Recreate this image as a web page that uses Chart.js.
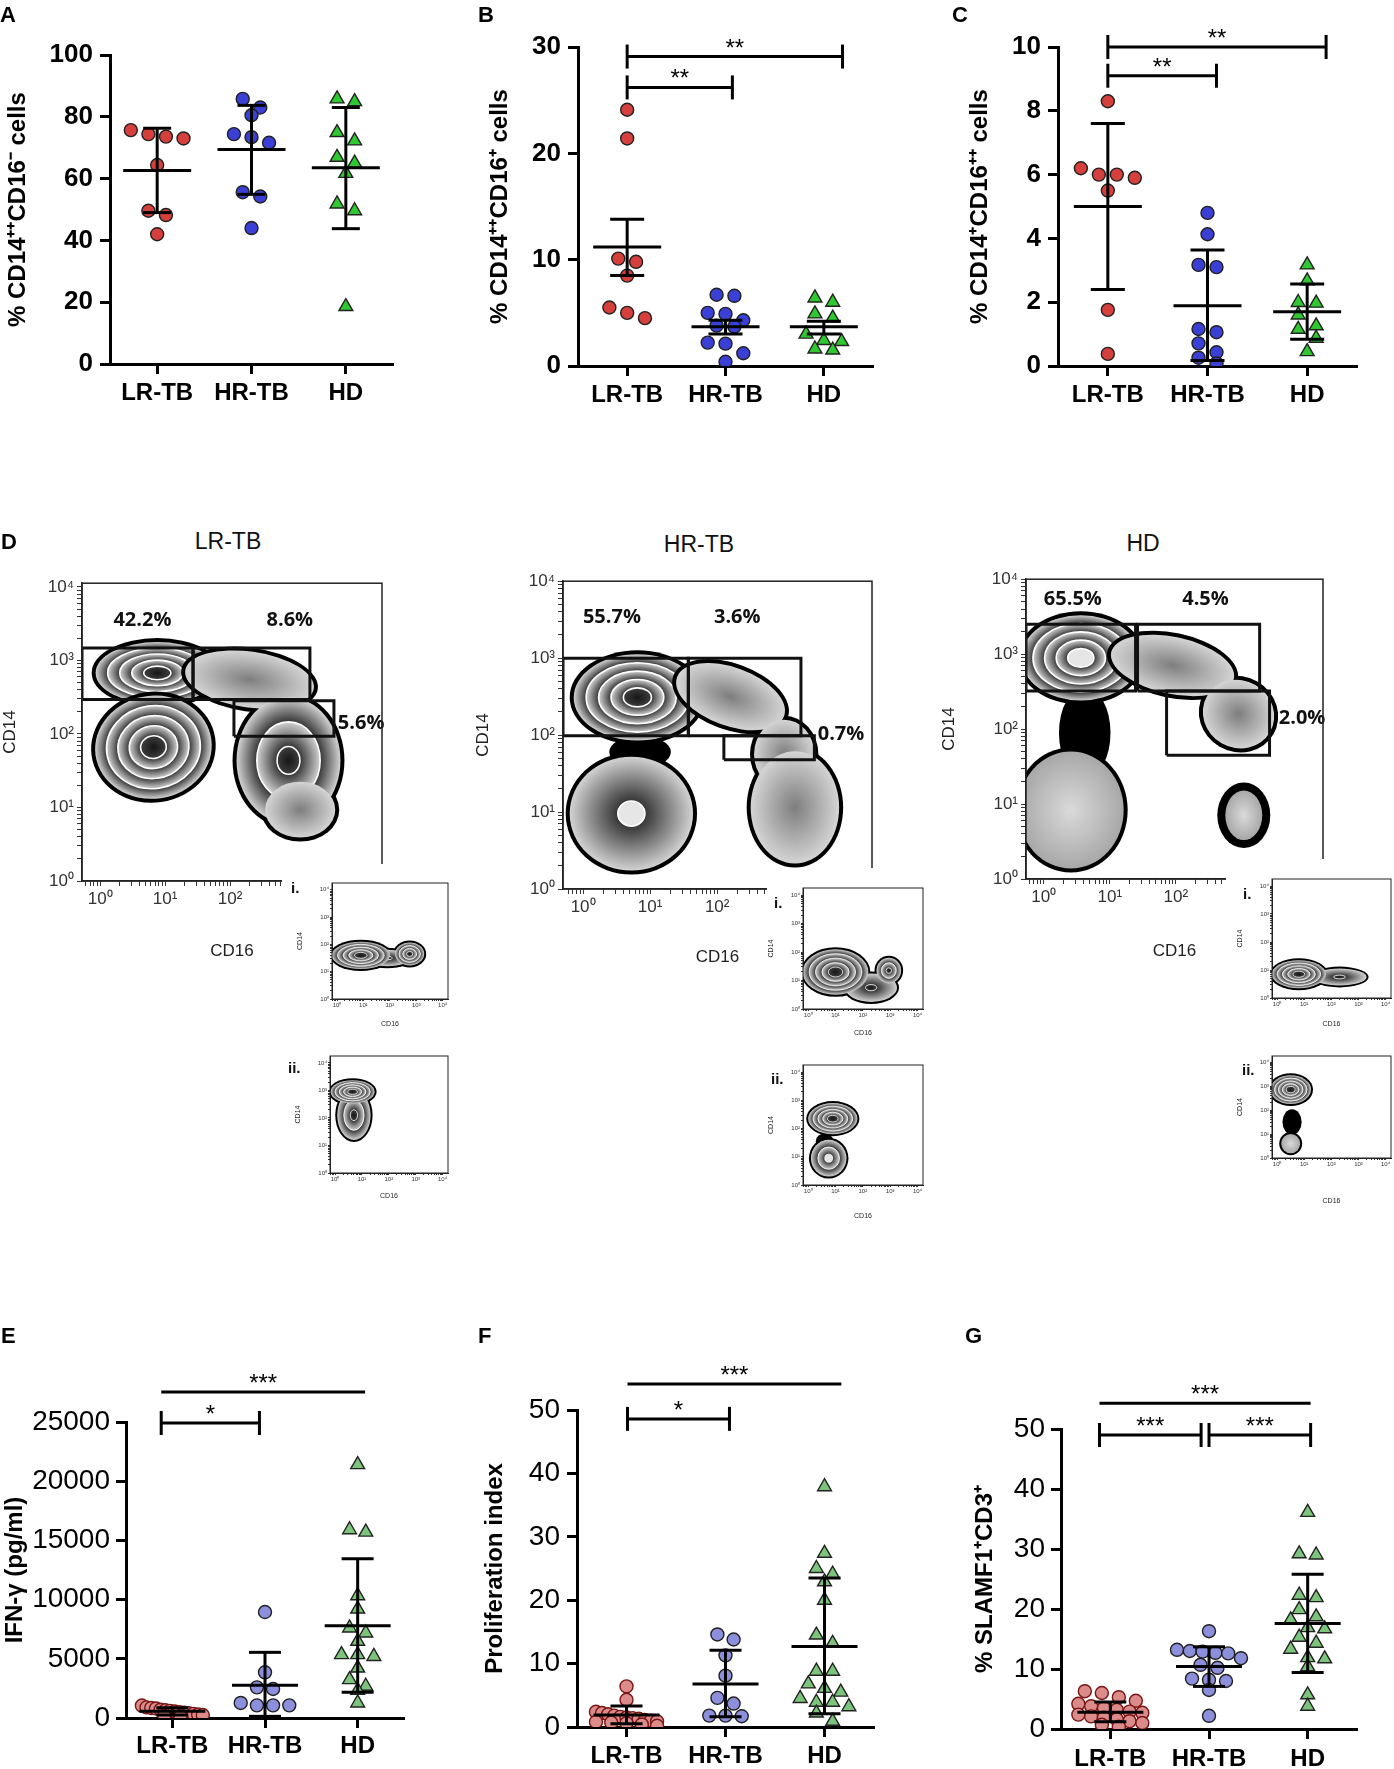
<!DOCTYPE html>
<html>
<head>
<meta charset="utf-8">
<title>Monocyte subsets and T-cell responses</title>
<script src="https://cdn.jsdelivr.net/npm/chart.js@4.4.1/dist/chart.umd.min.js"></script>
<style>
  body { margin: 0; background: #fff; }
  #page { position: relative; width: 1394px; height: 1769px; overflow: hidden; background: #fff; font-family: 'Liberation Sans', Arial, sans-serif; }
  #page canvas { position: absolute; }
  .tag { position: absolute; font-weight: bold; font-size: 22px; line-height: 1; color: #000; z-index: 5; }
  .sub { position: absolute; font-size: 23px; line-height: 1; color: #111; transform: translateX(-50%); z-index: 5; }
  .roman { position: absolute; font-weight: bold; font-size: 15px; line-height: 1; color: #111; z-index: 5; }
</style>
</head>
<body>
<div id="page">
  <div class="tag" style="left:0px;top:4px">A</div>
  <div class="tag" style="left:478px;top:4px">B</div>
  <div class="tag" style="left:952px;top:4px">C</div>
  <div class="tag" style="left:1px;top:531px">D</div>
  <div class="tag" style="left:1px;top:1325px">E</div>
  <div class="tag" style="left:478px;top:1325px">F</div>
  <div class="tag" style="left:965px;top:1325px">G</div>
  <div class="sub" style="left:228px;top:530px">LR-TB</div>
  <div class="sub" style="left:699px;top:533px">HR-TB</div>
  <div class="sub" style="left:1143px;top:532px">HD</div>
  <div class="roman" style="left:291px;top:880px">i.</div>
  <div class="roman" style="left:288px;top:1060px">ii.</div>
  <div class="roman" style="left:774px;top:895px">i.</div>
  <div class="roman" style="left:771px;top:1071px">ii.</div>
  <div class="roman" style="left:1243px;top:886px">i.</div>
  <div class="roman" style="left:1242px;top:1062px">ii.</div>
</div>
<script>
const FF = "'Liberation Sans', Arial, sans-serif";
const groups = ['LR-TB', 'HR-TB', 'HD'];
const sup = ['\u2070', '\u00b9', '\u00b2', '\u00b3', '\u2074'];

// A  % CD14++CD16- cells, mean +/- SD
const aLR = [75.7, 73.0, 73.6, 74.4, 64.4, 48.2, 49.6, 42.0];
const aHR = [85.8, 83.0, 80.5, 74.4, 73.4, 71.6, 55.6, 54.2, 44.0];
const aHD = [85.8, 84.9, 74.9, 72.2, 66.9, 65.0, 61.7, 51.8, 49.6, 18.6];
const aMean = [62.6, 69.4, 63.5];
const aLow = [49.0, 54.9, 43.8];
const aHigh = [76.3, 83.7, 83.0];
const aTicks = [0, 20, 40, 60, 80, 100];

// B  % CD14++CD16+ cells, mean +/- SEM
const bLR = [24.1, 21.4, 10.1, 9.8, 8.5, 5.5, 5.0, 4.5];
const bHR = [6.7, 6.6, 5.0, 4.9, 4.3, 3.8, 3.7, 2.2, 2.1, 1.2, 0.4];
const bHD = [6.4, 6.0, 4.9, 4.5, 3.0, 2.4, 2.3, 1.6, 1.5];
const bMean = [11.2, 3.7, 3.7];
const bLow = [8.5, 3.0, 3.0];
const bHigh = [13.8, 4.3, 4.2];
const bTicks = [0, 10, 20, 30];
const bSig = ['**', '**'];

// C  % CD14+CD16++ cells
const cLR = [8.3, 6.2, 6.0, 6.0, 5.9, 5.5, 1.76, 0.38];
const cHR = [4.8, 4.13, 3.17, 3.1, 1.16, 1.06, 0.71, 0.43, 0.26, 0.08];
const cHD = [3.17, 2.67, 1.99, 1.97, 1.6, 1.26, 1.15, 0.87, 0.45];
const cMean = [5.0, 1.89, 1.7];
const cLow = [2.4, 0.17, 0.84];
const cHigh = [7.6, 3.64, 2.57];
const cTicks = [0, 2, 4, 6, 8, 10];
const cSig = ['**', '**'];

// E  IFN-gamma (pg/ml)
const eLR = [1050, 900, 850, 800, 700, 650, 600, 550, 500, 450, 400, 350, 300, 250, 200, 150];
const eHR = [8950, 3860, 2590, 2450, 1270, 1070, 1070, 1070];
const eHD = [21400, 15900, 15700, 10330, 9200, 7600, 7180, 6480, 5350, 5350, 5200, 4220, 3240, 2680, 2340, 1270];
const eMean = [560, 2760, 7800];
const eLow = [250, 140, 2170];
const eHigh = [870, 5546, 13457];
const eTicks = [0, 5000, 10000, 15000, 20000, 25000];
const eSig = ['***', '*'];

// F  proliferation index
const fLR = [6.4, 4.3, 2.4, 2.2, 2.0, 1.8, 1.6, 1.5, 1.4, 1.3, 1.1, 1.0, 0.9, 0.8, 0.7, 0.6, 0.4, 0.2];
const fHR = [14.6, 13.8, 11.3, 8.1, 4.6, 3.7, 1.8, 1.8, 1.7];
const fHD = [37.9, 27.4, 25.0, 24.1, 22.9, 20.0, 14.5, 13.2, 8.8, 8.8, 6.8, 6.1, 5.5, 4.5, 3.9, 3.9, 3.2, 2.2, 0.9];
const fMean = [1.9, 6.8, 12.7];
const fLow = [0.5, 1.6, 2.1];
const fHigh = [3.3, 12.1, 23.5];
const fTicks = [0, 10, 20, 30, 40, 50];
const fSig = ['***', '*'];

// G  % SLAMF1+CD3+
const gLR = [6.3, 6.0, 5.3, 4.7, 4.2, 3.8, 3.5, 3.2, 2.9, 2.7, 2.4, 2.1, 1.9, 1.6, 1.3, 1.0, 0.7, 0.4];
const gHR = [16.3, 13.2, 13.0, 12.9, 12.7, 12.6, 11.8, 10.7, 10.2, 8.4, 8.2, 8.0, 6.5, 2.2];
const gHD = [36.1, 29.2, 29.0, 22.3, 21.9, 19.9, 18.7, 18.2, 16.9, 16.7, 15.3, 14.3, 13.3, 11.9, 11.7, 10.4, 5.7, 3.8];
const gMean = [2.8, 10.4, 17.6];
const gLow = [1.2, 7.1, 9.4];
const gHigh = [4.5, 13.7, 25.8];
const gTicks = [0, 10, 20, 30, 40, 50];
const gSig = ['***', '***', '***'];

// D  flow plots, log10 units. gates [x0, x1, y0, y1]
const lrGates = [[-0.28, 1.43, 2.47, 3.17], [1.43, 3.23, 2.47, 3.17], [2.06, 3.6, 1.97, 2.45]];
const hrGates = [[-0.3, 1.57, 1.99, 3.0], [1.57, 3.25, 1.99, 3.0], [2.1, 3.45, 1.68, 1.99]];
const hdGates = [[-0.27, 1.39, 2.51, 3.4], [1.42, 3.27, 2.51, 3.4], [1.86, 3.42, 1.65, 2.51]];
const lrPct = ['42.2%', '8.6%', '5.6%'];
const hrPct = ['55.7%', '3.6%', '0.7%'];
const hdPct = ['65.5%', '4.5%', '2.0%'];
// populations: [cx, cy, rx, ry, tilt, kind, contours, edge]
const lrPops = [
  [[0.88, 2.83, 0.95, 0.42, 0, 'z', 4]],
  [[0.82, 1.82, 0.9, 0.7, -8, 'z', 4]],
  [[2.3, 2.74, 1.0, 0.38, 8, 's', 0], [2.9, 1.64, 0.8, 0.86, 0, 'z', 2], [3.08, 0.97, 0.54, 0.38, 0, 's', 0]]
];
const hrPops = [
  [[0.85, 1.78, 0.4, 0.16, 0, 'k', 0]],
  [[0.81, 2.49, 0.95, 0.56, 0, 'z', 4]],
  [[0.72, 0.98, 0.92, 0.74, 0, 'zl', 1]],
  [[2.2, 2.5, 0.85, 0.38, 20, 's', 0], [3.0, 1.75, 0.45, 0.45, 0, 's', 0], [3.16, 1.06, 0.66, 0.73, 0, 's', 0]]
];
const hdPops = [
  [[0.62, 1.95, 0.33, 0.55, 0, 'k', 0]],
  [[0.56, 2.95, 0.9, 0.57, 0, 'zl', 4]],
  [[0.41, 0.92, 0.8, 0.78, 0, 'sl', 0]],
  [[1.95, 2.85, 0.95, 0.38, 12, 's', 0], [2.95, 2.2, 0.55, 0.45, 30, 's', 0]],
  [[3.03, 0.85, 0.28, 0.33, 0, 'sl', 0, 8]]
];
// back-gated insets (i. and ii.)
const lrInsetI = [[[1.9, 1.5, 0.9, 0.3, 0, 'z', 1], [0.9, 1.6, 1.1, 0.5, 0, 'z', 4], [2.75, 1.65, 0.55, 0.42, 0, 'z', 3]]];
const lrInsetII = [[[0.7, 2.1, 0.62, 0.9, 0, 'z', 2], [0.65, 2.95, 0.82, 0.42, 0, 'z', 4]]];
const hrInsetI = [[[2.3, 0.75, 0.95, 0.5, 0, 'z', 1], [1.0, 1.3, 1.2, 0.8, 0, 'z', 4], [2.95, 1.35, 0.45, 0.45, 0, 'z', 2]]];
const hrInsetII = [[[0.6, 1.55, 0.25, 0.2, 0, 'k', 0]], [[0.75, 0.95, 0.65, 0.65, 0, 'zl', 2]], [[0.9, 2.35, 0.9, 0.55, 0, 'z', 4]]];
const hdInsetI = [[[2.3, 0.75, 1.0, 0.3, 0, 'z', 1], [0.8, 0.85, 1.0, 0.5, 0, 'z', 4]]];
const hdInsetII = [[[0.55, 1.5, 0.28, 0.45, 0, 'k', 0]], [[0.5, 0.6, 0.35, 0.4, 0, 'sl', 0]], [[0.5, 2.85, 0.75, 0.6, 0, 'z', 4]]];

Chart.defaults.font.family = FF;
Chart.defaults.color = '#000';
Chart.defaults.animation = false;
Chart.defaults.events = [];
Chart.defaults.plugins.legend.display = false;
Chart.defaults.plugins.tooltip.enabled = false;

function place(box, white) {
  const c = document.createElement('canvas');
  c.width = box[2]; c.height = box[3];
  c.style.left = box[0] + 'px'; c.style.top = box[1] + 'px';
  if (white) { c.style.background = '#fff'; c.style.zIndex = 2; }
  document.getElementById('page').appendChild(c);
  return c;
}

// prism-like scatter: points of similar value sit side by side
function swarm(vals, cat, perX, perY, o) {
  const idx = vals.map((v, i) => i).sort((a, b) => vals[b] - vals[a]);
  const rows = [];
  idx.forEach(i => {
    const row = rows[rows.length - 1];
    if (row && (vals[row[0]] - vals[i]) * perY < o.tol) row.push(i); else rows.push([i]);
  });
  const out = [];
  rows.forEach(row => {
    const n = row.length;
    const gap = n > 1 ? Math.min(o.step, 2 * o.half / (n - 1)) : 0;
    row.forEach((i, k) => out.push({ x: cat + (k - (n - 1) / 2) * gap / perX, y: vals[i] }));
  });
  return out;
}

function dotPanel(p) {
  const cv = place(p.box);
  const top = p.ticks[p.ticks.length - 1];
  const perX = (p.box[2] - p.yw - p.pr) / 3;
  const perY = (p.box[3] - p.pt - p.xh) / top;
  const ds = [];
  p.series.forEach((vals, i) => {
    const tri = i === 2;
    ds.push({
      data: swarm(vals, i + 1, perX, perY, p.swarm),
      pointStyle: tri ? 'triangle' : 'circle', pointRadius: tri ? p.tri : p.dot,
      pointBackgroundColor: p.fill[i], pointBorderColor: p.edge[i], pointBorderWidth: 1.4, order: 2
    });
  });
  p.mean.forEach((m, i) => {
    ds.push({ data: [{ x: i + 1, y: m }], pointStyle: 'line', pointRadius: p.meanHalf,
      pointBorderWidth: 3, pointBorderColor: '#000', order: 1 });
    ds.push({ data: [{ x: i + 1, y: p.low[i] }, { x: i + 1, y: p.high[i] }], showLine: true,
      borderColor: '#000', borderWidth: 3, pointStyle: 'line', pointRadius: p.capHalf,
      pointBorderWidth: 3, pointBorderColor: '#000', order: 1 });
  });
  p.brackets.forEach(b => {
    ds.push({ data: [{ x: b[0], y: b[2] }, { x: b[1], y: b[2] }], showLine: true, clip: false,
      borderColor: '#000', borderWidth: 3, pointStyle: 'line', pointRotation: 90, pointRadius: 12,
      pointBorderWidth: 3, pointBorderColor: '#000', order: 1 });
  });
  const stars = {
    id: 'stars',
    afterDatasetsDraw(chart) {
      const ctx = chart.ctx, xs = chart.scales.x, ys = chart.scales.y;
      ctx.save();
      ctx.font = '24px ' + FF; ctx.textAlign = 'center'; ctx.textBaseline = 'alphabetic'; ctx.fillStyle = '#000';
      p.brackets.forEach((b, k) => ctx.fillText(p.sig[k], xs.getPixelForValue((b[0] + b[1]) / 2), ys.getPixelForValue(b[2]) - 1));
      ctx.restore();
    }
  };
  const grid = { drawOnChartArea: false, tickLength: 10, tickWidth: 3, tickColor: '#000' };
  new Chart(cv, {
    type: 'scatter',
    data: { datasets: ds },
    options: {
      responsive: false,
      layout: { padding: { top: p.pt, right: p.pr, left: 0, bottom: 0 } },
      scales: {
        x: {
          type: 'linear', min: 0.5, max: 3.5,
          afterBuildTicks: s => { s.ticks = [1, 2, 3].map(v => ({ value: v })); },
          ticks: { callback: v => groups[v - 1], autoSkip: false, maxRotation: 0, padding: p.catPad,
            font: { size: 24, weight: 'bold' }, color: '#000' },
          grid: grid, border: { width: 3, color: '#000' },
          afterFit: s => { s.height = p.xh; }
        },
        y: {
          type: 'linear', min: 0, max: top,
          afterBuildTicks: s => { s.ticks = p.ticks.map(v => ({ value: v })); },
          ticks: { padding: p.tickPad, font: p.tickFont, color: '#000', callback: v => String(v) },
          grid: grid, border: { width: 3, color: '#000' },
          title: { display: true, text: p.title, color: '#000', font: { size: 24, weight: 'bold' },
            padding: { top: p.titlePad, bottom: 0 } },
          afterFit: s => { s.width = p.yw; }
        }
      }
    },
    plugins: [stars]
  });
}

const topFont = { size: 26, weight: 'bold' };
const lowFont = { size: 28, weight: 'normal' };
const strong = ['#d6403c', '#3a40d6', '#30c830'];
const soft = ['#dc8b8b', '#8c8fdc', '#7cc47c'];
const edges = ['#222', '#222', '#222'];
const softEdges = ['#7a1515', '#222', '#222'];
const topSwarm = { step: 19, tol: 11, half: 30 };
const lowSwarm = { step: 17, tol: 10, half: 32 };

dotPanel({ box: [0, 0, 430, 420], pt: 55, pr: 14, yw: 110, xh: 56, titlePad: 3.6, tickPad: 7, catPad: 5,
  tickFont: topFont, title: '% CD14\u207a\u207aCD16\u207b cells', ticks: aTicks,
  series: [aLR, aHR, aHD], mean: aMean, low: aLow, high: aHigh, brackets: [], sig: [],
  fill: strong, edge: edges, dot: 6.5, tri: 8, meanHalf: 34, capHalf: 14, swarm: topSwarm });
dotPanel({ box: [440, 0, 470, 420], pt: 47, pr: 17, yw: 138, xh: 54, titlePad: 45.6, tickPad: 7, catPad: 5,
  tickFont: topFont, title: '% CD14\u207a\u207aCD16\u207a cells', ticks: bTicks,
  series: [bLR, bHR, bHD], mean: bMean, low: bLow, high: bHigh,
  brackets: [[1.0, 3.19, 29.1], [1.0, 2.07, 26.2]], sig: bSig,
  fill: strong, edge: edges, dot: 6.5, tri: 8, meanHalf: 34, capHalf: 17, swarm: topSwarm });
dotPanel({ box: [920, 0, 474, 420], pt: 47, pr: 20, yw: 138, xh: 54, titlePad: 45.6, tickPad: 7, catPad: 5,
  tickFont: topFont, title: '% CD14\u207aCD16\u207a\u207a cells', ticks: cTicks,
  series: [cLR, cHR, cHD], mean: cMean, low: cLow, high: cHigh,
  brackets: [[1.0, 3.19, 10.0], [1.0, 2.09, 9.1]], sig: cSig,
  fill: strong, edge: edges, dot: 6.5, tri: 8, meanHalf: 34, capHalf: 17, swarm: topSwarm });
dotPanel({ box: [0, 1330, 440, 439], pt: 92, pr: 22, yw: 126, xh: 51, titlePad: 0.6, tickPad: 6, catPad: 4,
  tickFont: lowFont, title: 'IFN-\u03b3 (pg/ml)', ticks: eTicks,
  series: [eLR, eHR, eHD], mean: eMean, low: eLow, high: eHigh,
  brackets: [[0.88, 3.08, 27534], [0.88, 1.94, 24916]], sig: eSig,
  fill: soft, edge: softEdges, dot: 6.5, tri: 8, meanHalf: 33, capHalf: 16, swarm: lowSwarm });
dotPanel({ box: [450, 1330, 460, 439], pt: 80, pr: 22, yw: 127, xh: 42, titlePad: 30.6, tickPad: 7, catPad: 5,
  tickFont: lowFont, title: 'Proliferation index', ticks: fTicks,
  series: [fLR, fHR, fHD], mean: fMean, low: fLow, high: fHigh,
  brackets: [[1.01, 3.17, 54.1], [1.01, 2.04, 48.6]], sig: fSig,
  fill: soft, edge: softEdges, dot: 6.5, tri: 8, meanHalf: 33, capHalf: 16, swarm: lowSwarm });
dotPanel({ box: [920, 1330, 474, 439], pt: 99, pr: 37, yw: 141, xh: 40, titlePad: 50.6, tickPad: 6, catPad: 6,
  tickFont: lowFont, title: '% SLAMF1\u207aCD3\u207a', ticks: gTicks,
  series: [gLR, gHR, gHD], mean: gMean, low: gLow, high: gHigh,
  brackets: [[0.89, 3.03, 54.3], [0.89, 1.92, 49.0], [2.0, 3.03, 49.0]], sig: gSig,
  fill: soft, edge: softEdges, dot: 6.5, tri: 8, meanHalf: 33, capHalf: 16, swarm: lowSwarm });

// ---------- flow cytometry contour plots ----------
function decadeTicks(r) {
  const t = [];
  for (let k = Math.floor(r[0]); k <= Math.ceil(r[1]); k++) {
    for (let m = 1; m < 10; m++) {
      const v = m === 1 ? k : k + Math.log10(m);
      if (v >= r[0] - 1e-9 && v <= r[1] + 1e-9) t.push(v);
    }
  }
  return t;
}

function shade(ctx, e, line) {
  const unit = (fill, r) => {
    ctx.save(); ctx.translate(e.x, e.y); ctx.rotate(e.rot); ctx.scale(e.rx, e.ry);
    ctx.fillStyle = typeof fill === 'function' ? fill() : fill;
    ctx.beginPath(); ctx.arc(0, 0, r, 0, 2 * Math.PI); ctx.fill(); ctx.restore();
  };
  const grad = (r0, r1, c0, c1) => () => {
    const g = ctx.createRadialGradient(0, 0, r0, 0, 0, r1);
    g.addColorStop(0, c0); g.addColorStop(1, c1); return g;
  };
  if (e.kind === 'k') return;
  if (e.kind === 's') { unit(grad(0, 1, '#7e7e7e', '#d4d4d4'), 1); return; }
  if (e.kind === 'sl') { unit(grad(0, 1, '#dadada', '#a8a8a8'), 1); return; }
  const L = e.lv, core = 0.22;
  const s = [];
  for (let k = 0; k <= L; k++) s.push(1 - k * (1 - core) / L);
  for (let k = 0; k < L; k++) unit(grad(s[k + 1], s[k], '#363636', '#d2d2d2'), s[k]);
  unit(e.kind === 'zl' ? '#e6e6e6' : grad(0, s[L], '#161616', '#3e3e3e'), s[L]);
  ctx.strokeStyle = '#fff'; ctx.lineWidth = line;
  for (let k = 1; k <= L; k++) {
    ctx.beginPath(); ctx.ellipse(e.x, e.y, e.rx * s[k], e.ry * s[k], e.rot, 0, 2 * Math.PI); ctx.stroke();
  }
}

function drawPops(chart, pops, edge, line) {
  const xs = chart.scales.x, ys = chart.scales.y, ctx = chart.ctx, a = chart.chartArea;
  ctx.save();
  ctx.beginPath(); ctx.rect(a.left, a.top, a.right - a.left, a.bottom - a.top); ctx.clip();
  pops.forEach(pop => {
    const els = pop.map(q => ({
      x: xs.getPixelForValue(q[0]), y: ys.getPixelForValue(q[1]),
      rx: Math.abs(xs.getPixelForValue(q[0] + q[2]) - xs.getPixelForValue(q[0])),
      ry: Math.abs(ys.getPixelForValue(q[1] + q[3]) - ys.getPixelForValue(q[1])),
      rot: q[4] * Math.PI / 180, kind: q[5], lv: q[6] || 0, edge: q[7] !== undefined ? q[7] * edge / 4 : edge
    }));
    ctx.fillStyle = '#000';
    els.forEach(e => { ctx.beginPath(); ctx.ellipse(e.x, e.y, e.rx + e.edge, e.ry + e.edge, e.rot, 0, 2 * Math.PI); ctx.fill(); });
    els.forEach(e => shade(ctx, e, line));
  });
  ctx.restore();
}

function flowPanel(f) {
  const cv = place(f.box, f.white);
  const ds = (f.gates || []).map(g => ({
    data: [{ x: g[0], y: g[2] }, { x: g[1], y: g[2] }, { x: g[1], y: g[3] }, { x: g[0], y: g[3] }, { x: g[0], y: g[2] }],
    showLine: true, borderColor: '#111', borderWidth: 3, pointRadius: 0
  }));
  const axis = (range, text, isX) => ({
    type: 'linear', min: range[0], max: range[1],
    afterBuildTicks: s => { s.ticks = decadeTicks(range).map(v => ({ value: v })); },
    ticks: { autoSkip: false, maxRotation: 0, padding: f.tpad, color: '#333', font: { size: f.fs },
      callback: v => Number.isInteger(v) && v >= 0 ? '10' + sup[v] : '' },
    grid: { drawOnChartArea: false, tickLength: f.tl, tickColor: '#333', tickWidth: 1 },
    border: { width: f.bw, color: '#222' },
    title: { display: true, text: text, color: '#222', font: { size: f.ts },
      padding: isX ? { top: 0, bottom: f.xtPad } : { top: f.ytPad, bottom: 0 } },
    afterFit: s => { if (isX) s.height = f.xh; else s.width = f.yw; }
  });
  const extras = {
    id: 'flow',
    beforeDatasetsDraw(chart) { drawPops(chart, f.pops, f.edge, f.line); },
    afterDatasetsDraw(chart) {
      const ctx = chart.ctx, xs = chart.scales.x, ys = chart.scales.y;
      ctx.save();
      ctx.font = "bold 20px 'Open Sans', 'DejaVu Sans', sans-serif"; ctx.fillStyle = '#111'; ctx.textBaseline = 'middle';
      (f.pct || []).forEach((t, k) => {
        const at = f.pctAt[k];
        ctx.textAlign = at[2];
        ctx.fillText(t, xs.getPixelForValue(at[0]), ys.getPixelForValue(at[1]));
      });
      ctx.restore();
    },
    afterDraw(chart) {
      const a = chart.chartArea, ctx = chart.ctx;
      ctx.save(); ctx.strokeStyle = '#222'; ctx.lineWidth = f.bw;
      ctx.strokeRect(a.left, a.top, a.right - a.left, a.bottom - a.top); ctx.restore();
    }
  };
  new Chart(cv, {
    type: 'scatter',
    data: { datasets: ds },
    options: {
      responsive: false,
      layout: { padding: { top: f.pt, right: f.pr, left: 0, bottom: 0 } },
      scales: { x: axis(f.xr, 'CD16', true), y: axis(f.yr, 'CD14', false) }
    },
    plugins: [extras]
  });
}

const mainFlow = { fs: 17, ts: 17, tl: 5, tpad: 3, bw: 1.5, edge: 4, line: 1.6 };
const insetFlow = { fs: 6, ts: 7, tl: 2, tpad: 1, bw: 1, edge: 2, line: 0.8, white: true,
  xr: [-0.19, 4.2], yr: [0, 4.25], ytPad: 0 };

flowPanel(Object.assign({}, mainFlow, { box: [0, 570, 400, 400], pt: 12, pr: 18, yw: 82, xh: 89, xtPad: 8.8, ytPad: 0,
  xr: [-0.28, 4.34], yr: [0, 4.05], gates: lrGates, pops: lrPops, pct: lrPct,
  pctAt: [[0.65, 3.54, 'center'], [2.92, 3.54, 'center'], [3.66, 2.14, 'left']] }));
flowPanel(Object.assign({}, mainFlow, { box: [470, 568, 420, 411], pt: 12, pr: 18, yw: 93, xh: 90, xtPad: 11.3, ytPad: 3.4,
  xr: [-0.3, 4.31], yr: [0, 4], gates: hrGates, pops: hrPops, pct: hrPct,
  pctAt: [[0.43, 3.53, 'center'], [2.3, 3.53, 'center'], [3.5, 2.01, 'left']] }));
flowPanel(Object.assign({}, mainFlow, { box: [934, 566, 410, 403], pt: 12, pr: 21, yw: 92, xh: 90, xtPad: 7.8, ytPad: 5.4,
  xr: [-0.27, 4.23], yr: [0, 4], gates: hdGates, pops: hdPops, pct: hdPct,
  pctAt: [[0.44, 3.73, 'center'], [2.45, 3.73, 'center'], [3.56, 2.15, 'left']] }));

flowPanel(Object.assign({}, insetFlow, { box: [282, 864, 172, 168], yw: 50, ytPad: 14, pt: 19, pr: 6, xh: 33, xtPad: 3.8, pops: lrInsetI }));
flowPanel(Object.assign({}, insetFlow, { box: [294, 1044, 160, 160], yw: 36, pt: 12, pr: 6, xh: 31, xtPad: 3.8, pops: lrInsetII }));
flowPanel(Object.assign({}, insetFlow, { box: [767, 868, 162, 173], yw: 36, pt: 20, pr: 6, xh: 32, xtPad: 3.8, pops: hrInsetI }));
flowPanel(Object.assign({}, insetFlow, { box: [767, 1053, 162, 171], yw: 36, pt: 12, pr: 6, xh: 39, xtPad: 3.8, pops: hrInsetII }));
flowPanel(Object.assign({}, insetFlow, { box: [1226, 859, 168, 173], yw: 46, ytPad: 10, pt: 20, pr: 3, xh: 34, xtPad: 3.8, pops: hdInsetI }));
flowPanel(Object.assign({}, insetFlow, { box: [1236, 1044, 158, 165], yw: 36, pt: 12, pr: 3, xh: 51, xtPad: 3.8, pops: hdInsetII }));
</script>
</body>
</html>
